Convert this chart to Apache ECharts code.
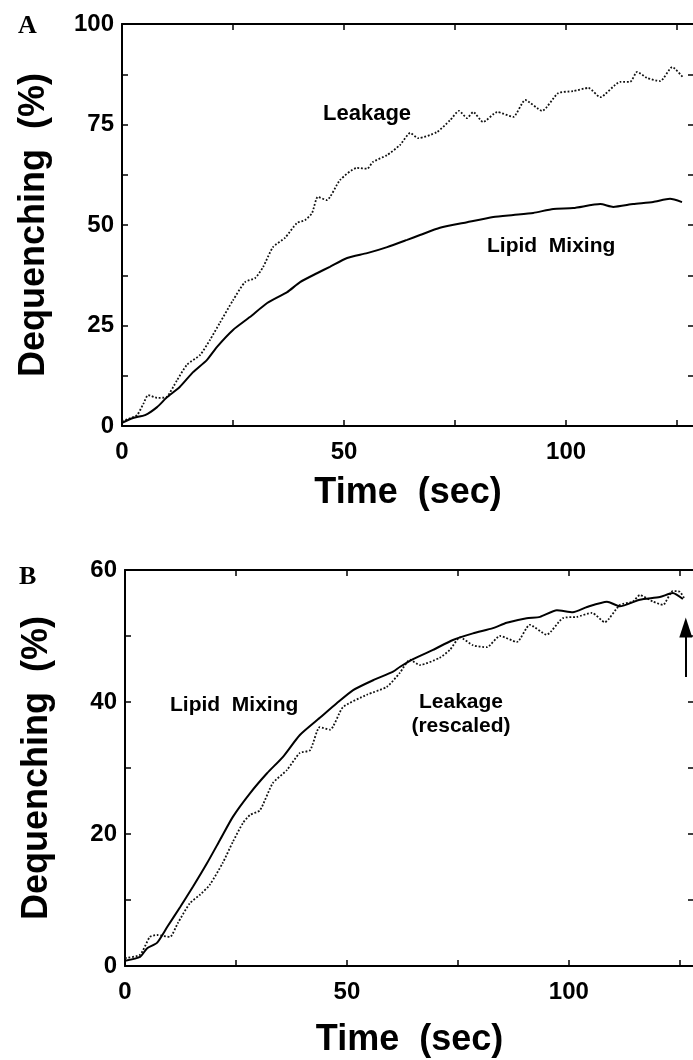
<!DOCTYPE html>
<html>
<head>
<meta charset="utf-8">
<script src="https://cdn.jsdelivr.net/npm/echarts/dist/echarts.min.js"></script>
<style>
html,body{margin:0;padding:0;background:#fff;overflow:hidden;}
#chart{width:693px;height:1060px;}
</style>
</head>
<body>
<div id="chart"></div>
<script>
// ---------- DATA ----------
// Panel A
const leakA_t = [0,1.5,3.4,4.8,5.9,7.9,10,12.4,14.6,17.6,19.8,22,25,27.7,30,31.8,34,36.7,39.4,41.2,42.8,44.1,46.1,49.1,52.9,55.2,56.5,59.7,62.6,64.9,66.7,70.9,73.9,75.9,77.7,79.1,81.3,84.5,88.1,90.8,94.6,98.2,101.6,105,107.7,112.2,114.4,116,118.2,121.2,123.9,126.4];
const leakA_v = [1.2,1.8,2.7,5.5,7.7,7.0,7.2,11.4,15.2,17.7,21.4,25.6,31.3,35.8,36.8,39.6,44.5,46.8,50.5,51.2,53,57,56.2,61.2,64.2,64,65.7,67.4,69.9,72.9,71.6,73.1,76.1,78.4,76.6,78.1,75.6,78.1,76.9,81.1,78.4,82.8,83.3,84.1,81.8,85.6,85.6,88.1,86.6,85.8,89.3,86.6];
const lipidA_t = [0,2.5,5.2,7.9,10,13,16,19.1,21.4,25,28.8,32.7,37.2,40.1,43.9,46.8,50.7,55.2,59.7,64.2,67.1,71.6,77.7,83.6,88.1,92.6,97.1,101.6,107.7,110.6,115.1,119.6,123.4,126.1];
const lipidA_v = [0.8,2,2.7,4.7,7,9.7,13.4,16.4,19.7,23.9,27.1,30.6,33.3,35.8,38,39.6,41.8,43,44.5,46.3,47.5,49.3,50.7,52,52.5,53,54,54.2,55.2,54.5,55.2,55.7,56.5,55.7];
// Panel B
const lipidB_t = [0,3.4,5,7.2,9.5,12.4,15.3,18.5,21.4,24.3,28.2,32,35.6,39.4,43.9,47.7,51.4,55.9,60.4,61.9,64.9,69.4,73.9,78.4,82.9,86,90.5,93.5,97.3,100.9,104.1,108.6,111.5,116,120.5,123.4,125.7];
const lipidB_v = [0.8,1.4,2.7,3.5,5.9,8.9,12,15.6,19.1,22.6,26.2,29.2,31.7,35,37.6,39.8,41.8,43.3,44.6,45.3,46.5,47.9,49.4,50.4,51.2,52,52.7,52.9,53.9,53.6,54.4,55.2,54.5,55.5,55.9,56.5,55.6];
const leakB_t = [0,3.4,5.6,7.2,10.1,11.9,14.6,16.9,19.1,22,24.3,26.6,28.2,30.4,33.3,36.5,39.4,41.7,43.9,46.2,49.1,54.5,59,61.9,64.2,66.4,70.9,73.2,75.5,78.4,81.5,84.5,88.3,91.2,95,98.6,101.8,105.2,108.1,111.5,114.4,116,119,121.2,123.4,125,126.1];
const leakB_v = [1.2,1.7,4.4,4.7,4.4,6.5,9.5,10.8,12.3,15.6,18.8,21.7,22.9,23.6,27.7,29.7,32.3,32.7,36.2,35.8,39.2,41.1,42.3,44.4,46.4,45.6,46.7,47.9,49.8,48.6,48.3,50,49.1,51.7,50.2,52.7,52.9,53.5,52.1,54.7,55.2,56.2,55.2,54.7,56.8,56.7,55.6];
// Arrow in panel B (time, from value, to value)
const arrowB = {t: 126.35, from: 43.8, to: 51.3};
// Ticks / labels
const xLabelsShown = [0, 50, 100];
const yLabelsA = [0, 25, 50, 75, 100];
const yLabelsB = [0, 20, 40, 60];
const yTitle = 'Dequenching  (%)';
const xTitle = 'Time  (sec)';

// ---------- BUILD ----------
const zip = (t, v) => t.map((x, i) => [x, v[i]]);
const FONT = 'Liberation Sans, Arial, Helvetica, sans-serif';

function xAxisDef(grid, max, pos, withLabels, gap) {
  return {
    gridIndex: grid, type: 'value', position: pos, min: 0, max: max, interval: 25,
    axisLine: {show: true, onZero: false, lineStyle: {color: '#000', width: 2}},
    axisTick: {show: true, inside: true, length: 6, lineStyle: {color: '#000', width: 1.5}},
    axisLabel: {show: withLabels, margin: 14, fontSize: 24, fontWeight: 'bold', fontFamily: FONT, color: '#000',
      showMaxLabel: false,
      formatter: v => xLabelsShown.includes(v) ? String(v) : ''},
    splitLine: {show: false},
    name: withLabels ? xTitle : '', nameLocation: 'middle', nameGap: gap,
    nameTextStyle: {fontSize: 36, fontWeight: 'bold', fontFamily: FONT, color: '#000'}
  };
}
function yAxisDef(grid, max, interval, labels, pos, withLabels) {
  return {
    gridIndex: grid, type: 'value', position: pos, min: 0, max: max, interval: interval,
    axisLine: {show: withLabels, onZero: false, lineStyle: {color: '#000', width: 2}},
    axisTick: {show: true, inside: true, length: 6, lineStyle: {color: '#000', width: 1.5}},
    axisLabel: {show: withLabels, margin: 8, fontSize: 24, fontWeight: 'bold', fontFamily: FONT, color: '#000',
      formatter: v => labels.includes(v) ? String(v) : ''},
    splitLine: {show: false},
    name: withLabels ? yTitle : '', nameLocation: 'middle', nameRotate: 90, nameGap: 70,
    nameTextStyle: {fontSize: 36, fontWeight: 'bold', fontFamily: FONT, color: '#000'}
  };
}

const solid = {color: '#000', width: 2, type: 'solid'};
const dotted = {color: '#111', width: 1.8, type: 'dotted'};

const option = {
  backgroundColor: '#fff',
  animation: false,
  grid: [
    {left: 122, width: 572, top: 24, height: 402, outerBoundsMode: 'none', containLabel: false},
    {left: 125, width: 569, top: 570, height: 396, outerBoundsMode: 'none', containLabel: false}
  ],
  xAxis: [
    xAxisDef(0, 128.8, 'bottom', true, 49),
    xAxisDef(0, 128.8, 'top', false, 0),
    xAxisDef(1, 128.2, 'bottom', true, 56),
    xAxisDef(1, 128.2, 'top', false, 0)
  ],
  yAxis: [
    yAxisDef(0, 100, 12.5, yLabelsA, 'left', true),
    yAxisDef(0, 100, 12.5, yLabelsA, 'right', false),
    yAxisDef(1, 60, 10, yLabelsB, 'left', true),
    yAxisDef(1, 60, 10, yLabelsB, 'right', false)
  ],
  series: [
    {name: 'Leakage', type: 'line', xAxisIndex: 0, yAxisIndex: 0, data: zip(leakA_t, leakA_v),
     showSymbol: false, smooth: 0.2, lineStyle: dotted, silent: true},
    {name: 'Lipid Mixing', type: 'line', xAxisIndex: 0, yAxisIndex: 0, data: zip(lipidA_t, lipidA_v),
     showSymbol: false, smooth: 0.2, lineStyle: solid, silent: true},
    {name: 'Leakage (rescaled)', type: 'line', xAxisIndex: 2, yAxisIndex: 2, data: zip(leakB_t, leakB_v),
     showSymbol: false, smooth: 0.2, lineStyle: dotted, silent: true},
    {name: 'Lipid Mixing B', type: 'line', xAxisIndex: 2, yAxisIndex: 2, data: zip(lipidB_t, lipidB_v),
     showSymbol: false, smooth: 0.2, lineStyle: solid, silent: true,
     markLine: {
       silent: true, symbol: ['none', 'triangle'], symbolSize: [13, 20],
       label: {show: false},
       lineStyle: {color: '#000', width: 2, type: 'solid'},
       emphasis: {disabled: true},
       data: [[{coord: [arrowB.t, arrowB.from]}, {coord: [arrowB.t, arrowB.to]}]]
     }}
  ],
  graphic: [
    {type: 'text', left: 18, top: 13, style: {text: 'A', fontSize: 26, fontWeight: 'bold', fontFamily: 'Liberation Serif, Times New Roman, serif', fill: '#000'}},
    {type: 'text', left: 19, top: 564, style: {text: 'B', fontSize: 26, fontWeight: 'bold', fontFamily: 'Liberation Serif, Times New Roman, serif', fill: '#000'}},
    {type: 'text', left: 323, top: 103, style: {text: 'Leakage', fontSize: 22, fontWeight: 'bold', fontFamily: FONT, fill: '#000'}},
    {type: 'text', left: 487, top: 236, style: {text: 'Lipid  Mixing', fontSize: 21, fontWeight: 'bold', fontFamily: FONT, fill: '#000'}},
    {type: 'text', left: 170, top: 695, style: {text: 'Lipid  Mixing', fontSize: 21, fontWeight: 'bold', fontFamily: FONT, fill: '#000'}},
    {type: 'text', x: 461, y: 692, style: {text: 'Leakage', align: 'center', fontSize: 21, fontWeight: 'bold', fontFamily: FONT, fill: '#000'}},
    {type: 'text', x: 461, y: 716, style: {text: '(rescaled)', align: 'center', fontSize: 21, fontWeight: 'bold', fontFamily: FONT, fill: '#000'}}
  ]
};

const chart = echarts.init(document.getElementById('chart'), null, {renderer: 'canvas'});
chart.setOption(option);
</script>
</body>
</html>
